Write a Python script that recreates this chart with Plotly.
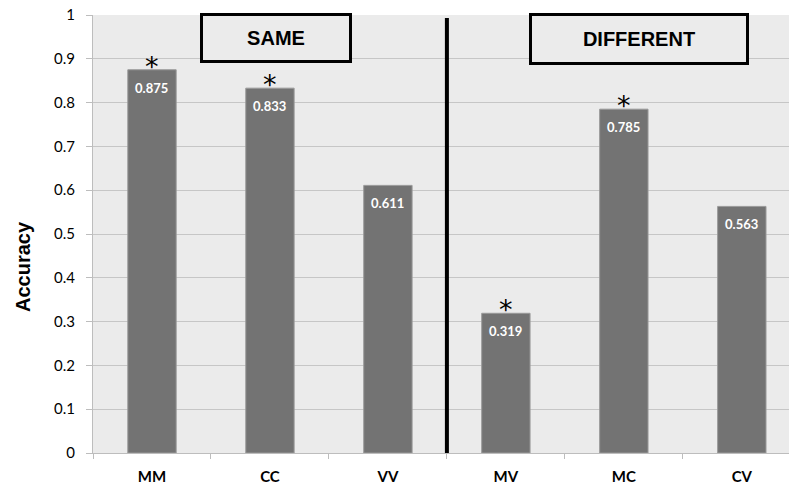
import plotly.graph_objects as go

categories = ["MM", "CC", "VV", "MV", "MC", "CV"]
accuracy = [0.875, 0.833, 0.611, 0.319, 0.785, 0.563]
significant = [True, True, False, True, True, False]
y_ticks = [0, 0.1, 0.2, 0.3, 0.4, 0.5, 0.6, 0.7, 0.8, 0.9, 1]
y_tick_labels = ["0", "0.1", "0.2", "0.3", "0.4", "0.5", "0.6", "0.7", "0.8", "0.9", "1"]

fig = go.Figure()
fig.add_trace(go.Bar(
    x=categories, y=accuracy, width=0.41,
    marker=dict(color="#737373", line=dict(color="#9a9a9a", width=1)),
    hoverinfo="skip",
))

for c, v, s in zip(categories, accuracy, significant):
    fig.add_annotation(x=c, y=v, text=f"<b>{v:.3f}</b>", showarrow=False, yanchor="top",
                       yshift=-8, font=dict(size=13, color="white", family="Lato"))
    if s:
        fig.add_annotation(x=c, y=v, text="*", showarrow=False, yanchor="bottom",
                           yshift=-14, font=dict(size=27, color="black", family="DejaVu Sans"))

# divider between groups
fig.add_shape(type="line", xref="x", yref="y", x0=2.5, x1=2.5, y0=0, y1=0.993,
              line=dict(color="black", width=4))

# group boxes
fig.add_annotation(xref="paper", yref="paper", x=(276 - 93) / 696, y=1 - (38 - 15) / 438,
                   xanchor="center", yanchor="middle",
                   text="<b>SAME</b>", showarrow=False, width=144, height=42, borderpad=1,
                   bordercolor="black", borderwidth=3, bgcolor="#ebebeb",
                   font=dict(size=20, color="black", family="Liberation Sans"))
fig.add_annotation(xref="paper", yref="paper", x=(639 - 93) / 696, y=1 - (39 - 15) / 438,
                   xanchor="center", yanchor="middle",
                   text="<b>DIFFERENT</b>", showarrow=False, width=212, height=44, borderpad=1,
                   bordercolor="black", borderwidth=3, bgcolor="#ebebeb",
                   font=dict(size=20, color="black", family="Liberation Sans"))

# y-axis title
fig.add_annotation(xref="paper", yref="paper", x=(23 - 93) / 696, y=1 - (267 - 15) / 438,
                   xanchor="center", yanchor="middle", textangle=-90,
                   text="<b>Accuracy</b>", showarrow=False,
                   font=dict(size=20, color="black", family="Liberation Sans"))

fig.update_layout(
    width=789, height=485,
    margin=dict(l=93, r=0, t=15, b=32, autoexpand=False),
    paper_bgcolor="white", plot_bgcolor="#ebebeb",
    showlegend=False,
    font=dict(family="Lato", color="black"),
)
fig.update_xaxes(
    range=[-0.5, 5.4], tickson="boundaries", ticks="outside", ticklen=5,
    tickcolor="#bdbdbd", showline=True, linecolor="#bdbdbd", linewidth=1,
    tickfont=dict(size=15, family="Lato", color="black"), showgrid=False,
    automargin=False, ticklabelstandoff=10,
    tickvals=categories, ticktext=[f"<b>{c}</b>" for c in categories],
)
fig.update_yaxes(
    range=[0, 1], tickvals=y_ticks, ticktext=y_tick_labels,
    ticks="outside", ticklen=6, tickcolor="#bdbdbd",
    showline=True, linecolor="#bdbdbd", linewidth=1,
    gridcolor="#c6c6c6", gridwidth=1, zeroline=False,
    tickfont=dict(size=15, family="Lato", color="black"),
    automargin=False, ticklabelstandoff=8,
)

fig.write_html("out.html", config={"displayModeBar": False},
               post_script="document.body.style.margin='0';document.body.style.overflow='hidden';")
